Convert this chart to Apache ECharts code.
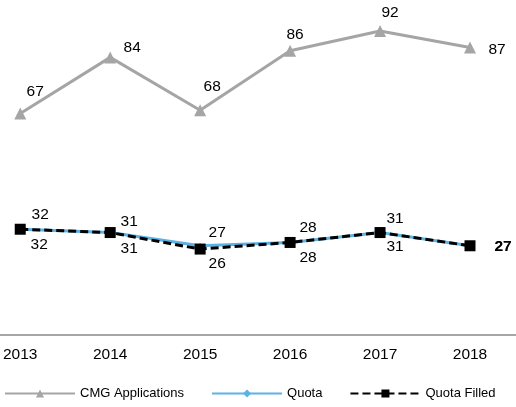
<!DOCTYPE html>
<html><head><meta charset="utf-8">
<script src="https://cdn.jsdelivr.net/npm/echarts@6/dist/echarts.min.js"></script>
<style>html,body{margin:0;padding:0;background:#fff}#c{width:516px;height:407px}</style>
</head><body><div id="c"></div>
<script>
const years = ['2013','2014','2015','2016','2017','2018'];
const cmgApplications = [67, 84, 68, 86, 92, 87];
const quota = [32, 31, 27, 28, 31, 27];
const quotaFilled = [32, 31, 26, 28, 31, 27];

// label offsets (styling only)
const cmgOffsets = [[15,-22],[22,-10],[12,-24],[5,-16],[10,-18],[27,2]];
const quotaOffsets = [[20,-15],[19,-11],[17,-13],[18,-15],[15,-14],[33,1]];
const filledOffsets = [[19,15],[19,16],[17,15],[18,15],[15,14],[33,1]];

const FONT = '"Liberation Sans", Arial, sans-serif';
function mk(vals, offs, boldLast){
  return vals.map((v,i)=>({value:v, label:{offset:offs[i], fontWeight:(boldLast && i===vals.length-1)?'bold':'normal'}}));
}
const chart = echarts.init(document.getElementById('c'));
chart.setOption({
  animation:false,
  textStyle:{fontFamily:FONT},
  grid:[{left:18, right:46, top:4.5, bottom:72, containLabel:false},
        {left:0, right:0, top:4.5, bottom:72, containLabel:false}],
  xAxis:[{type:'category', data:years, boundaryGap:false, gridIndex:0,
    axisLine:{show:false}, axisTick:{show:false},
    axisLabel:{color:'#000', fontSize:15.5, fontFamily:FONT, margin:12}},
    {type:'category', data:years, gridIndex:1,
    axisLine:{lineStyle:{color:'#a6a6a6', width:2}}, axisTick:{show:false},
    axisLabel:{show:false}}],
  yAxis:[{type:'value', min:0, max:100, show:false, splitLine:{show:false}, gridIndex:0},
         {type:'value', min:0, max:100, show:false, splitLine:{show:false}, gridIndex:1}],
  legend:{bottom:2, left:-1, itemWidth:70, itemHeight:10, itemGap:27,
    textStyle:{fontSize:13, color:'#000', fontFamily:FONT},
    data:['CMG Applications','Quota','Quota Filled']},
  series:[
    {name:'CMG Applications', type:'line', data:mk(cmgApplications,cmgOffsets),
     symbol:'triangle', symbolSize:12,
     lineStyle:{color:'#a5a5a5', width:3}, itemStyle:{color:'#a5a5a5'},
     label:{show:true, position:'inside', color:'#000', fontSize:15.5, fontFamily:FONT}},
    {name:'Quota', type:'line', data:mk(quota,quotaOffsets),
     symbol:'diamond', symbolSize:6,
     lineStyle:{color:'#5bb3e4', width:3}, itemStyle:{color:'#5bb3e4'},
     label:{show:true, position:'inside', color:'#000', fontSize:15.5, fontFamily:FONT}},
    {name:'Quota Filled', type:'line', data:mk(quotaFilled,filledOffsets,true),
     symbol:'rect', symbolSize:11,
     lineStyle:{color:'#000', width:3, type:[8,4]}, itemStyle:{color:'#000'},
     label:{show:true, position:'inside', color:'#000', fontSize:15.5, fontFamily:FONT}}
  ]
});
</script></body></html>
